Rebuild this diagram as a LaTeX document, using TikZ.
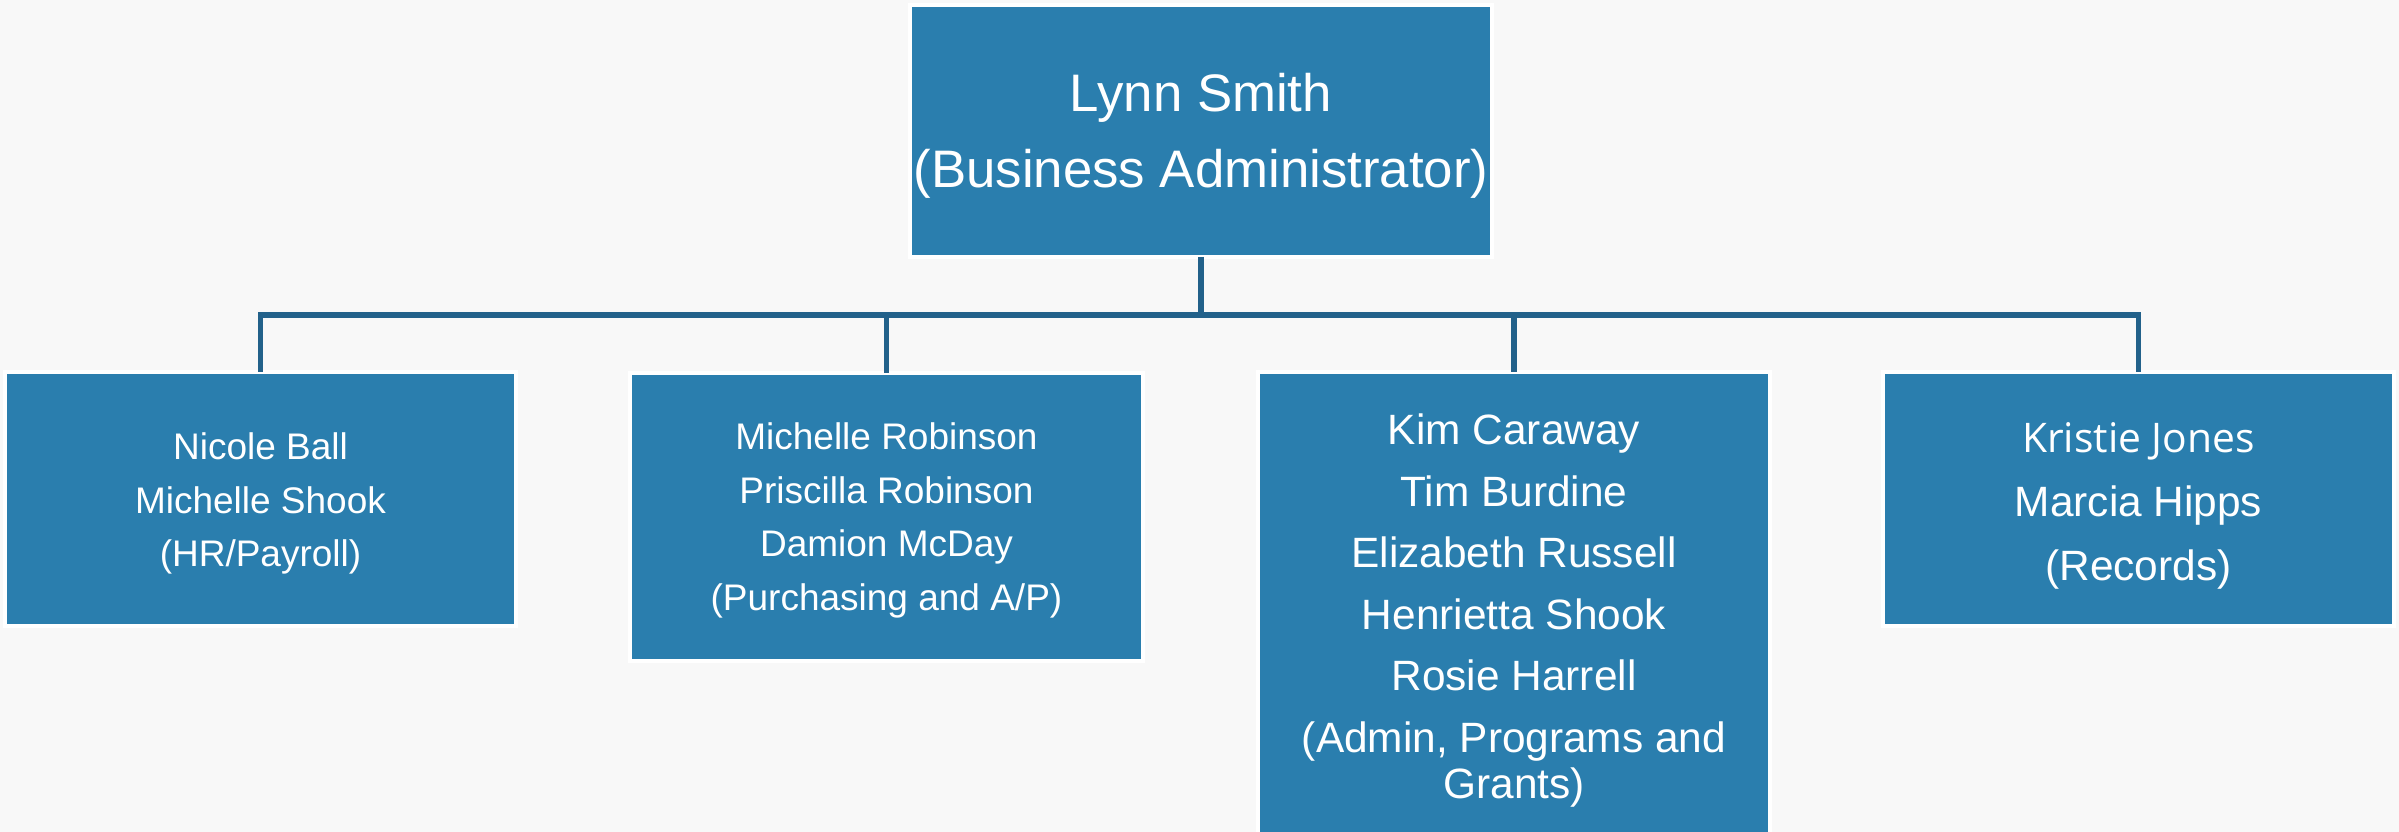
\documentclass[tikz,border=0pt]{standalone}
\usepackage{fontspec}
\setmainfont{Liberation Sans}
\newfontfamily\kfont{Open Sans}
\definecolor{bg}{HTML}{F8F8F8}
\definecolor{boxblue}{HTML}{2A7EAE}
\definecolor{linkblue}{HTML}{22618A}
\begin{document}
\begin{tikzpicture}[x=0.25pt,y=-0.25pt,
  orgbox/.style={rectangle, fill=boxblue, draw=white, line width=1.1pt, inner sep=0pt, outer sep=0pt},
  boxtext/.style={text=white, align=center, inner sep=0pt},
  link/.style={draw=linkblue, line width=1.3pt}]
\useasboundingbox (0,0) rectangle (2399,832);
\fill[bg] (0,0) rectangle (2399,832);
\node[orgbox, minimum width=145.5pt, minimum height=63pt] (top) at (1201,131) {};
\node[boxtext, font=\fontsize{13.2}{19}\selectfont] (topt) at ([yshift=-1.15pt]top.center)
  {Lynn Smith\\(Business Administrator)};
\node[orgbox, minimum width=127.75pt, minimum height=63.5pt] (b1) at (260.5,499) {};
\node[boxtext, font=\fontsize{9.25}{13.4}\selectfont] (b1t) at ([yshift=-1.15pt]b1.center)
  {Nicole Ball\\Michelle Shook\\(HR/Payroll)};
\node[orgbox, minimum width=128.25pt, minimum height=72pt] (b2) at (886.5,517) {};
\node[boxtext, font=\fontsize{9.25}{13.4}\selectfont] (b2t) at ([yshift=-0.9pt]b2.center)
  {Michelle Robinson\\Priscilla Robinson\\Damion McDay\\(Purchasing and A/P)};
\node[orgbox, minimum width=128pt, minimum height=117pt] (b3) at (1514,606) {};
\node[boxtext, font=\fontsize{10.6}{15.4}\selectfont] (b3t) at ([yshift=-1.15pt]b3.center)
  {Kim Caraway\\Tim Burdine\\Elizabeth Russell\\Henrietta Shook\\Rosie Harrell\\(Admin, Programs and\\[-3.9pt]Grants)};
\node[orgbox, minimum width=127.75pt, minimum height=63.5pt] (b4) at (2138.5,499) {};
\node[boxtext, font=\fontsize{10.6}{16}\selectfont] (b4t) at ([yshift=-1.7pt]b4.center)
  {{\kfont\fontsize{10.2}{16}\selectfont Kristie Jones}\\Marcia Hipps\\(Records)};
\coordinate (bus) at (1201,315);
\draw[link] (top.south) -- (bus);
\foreach \c in {b1,b2,b3,b4}
  \draw[link] (bus) -| (\c.north);
\end{tikzpicture}
\end{document}
